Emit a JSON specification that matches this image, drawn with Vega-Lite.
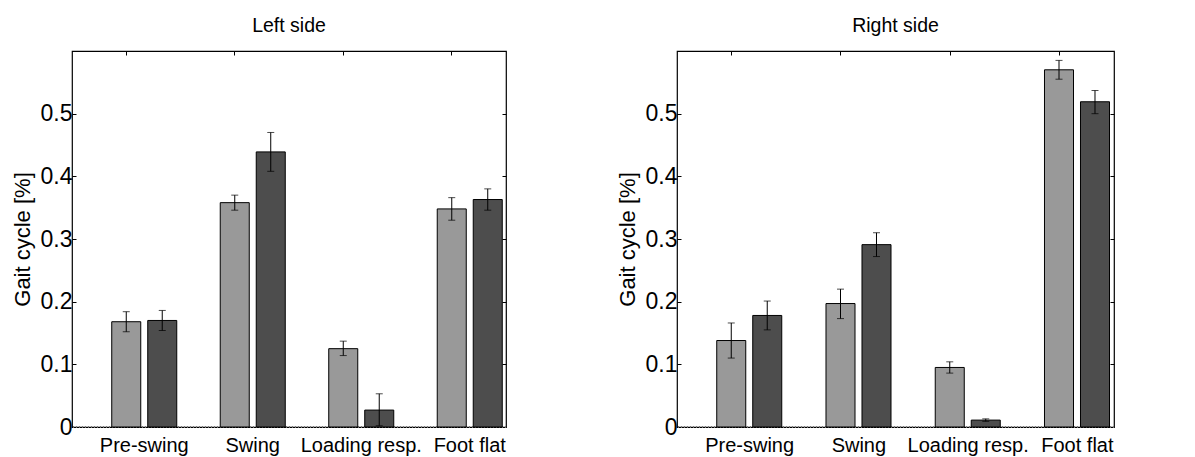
{
  "$schema": "https://vega.github.io/schema/vega-lite/v6.json",
  "background": "white",
  "padding": {"left": 10, "top": 15, "right": 5, "bottom": 0},
  "spacing": 107,
  "config": {
    "font": "Liberation Sans",
    "view": {"stroke": "black", "strokeWidth": 1.2},
    "axis": {"labelColor": "black", "titleColor": "black", "tickColor": "black", "domain": false, "grid": false, "titleFontWeight": "normal"},
    "title": {"fontWeight": "normal", "fontSize": 19.5, "color": "black", "offset": 14}
  },
  "datasets": {
    "left": [
      {"phase": "Pre-swing", "group": "A", "mean": 0.168, "lo": 0.152, "hi": 0.184},
      {"phase": "Pre-swing", "group": "B", "mean": 0.170, "lo": 0.154, "hi": 0.186},
      {"phase": "Swing", "group": "A", "mean": 0.358, "lo": 0.346, "hi": 0.370},
      {"phase": "Swing", "group": "B", "mean": 0.439, "lo": 0.408, "hi": 0.470},
      {"phase": "Loading resp.", "group": "A", "mean": 0.125, "lo": 0.114, "hi": 0.137},
      {"phase": "Loading resp.", "group": "B", "mean": 0.027, "lo": 0.002, "hi": 0.053},
      {"phase": "Foot flat", "group": "A", "mean": 0.348, "lo": 0.330, "hi": 0.366},
      {"phase": "Foot flat", "group": "B", "mean": 0.363, "lo": 0.346, "hi": 0.380}
    ],
    "right": [
      {"phase": "Pre-swing", "group": "A", "mean": 0.138, "lo": 0.110, "hi": 0.166},
      {"phase": "Pre-swing", "group": "B", "mean": 0.178, "lo": 0.155, "hi": 0.201},
      {"phase": "Swing", "group": "A", "mean": 0.197, "lo": 0.173, "hi": 0.220},
      {"phase": "Swing", "group": "B", "mean": 0.291, "lo": 0.272, "hi": 0.310},
      {"phase": "Loading resp.", "group": "A", "mean": 0.095, "lo": 0.086, "hi": 0.104},
      {"phase": "Loading resp.", "group": "B", "mean": 0.011, "lo": 0.009, "hi": 0.013},
      {"phase": "Foot flat", "group": "A", "mean": 0.570, "lo": 0.555, "hi": 0.585},
      {"phase": "Foot flat", "group": "B", "mean": 0.519, "lo": 0.500, "hi": 0.537}
    ]
  },
  "hconcat": [
    {
      "title": "Left side",
      "width": 434, "height": 376,
      "data": {"name": "left"},
      "resolve": {"axis": {"x": "independent", "y": "independent"}},
      "layer": [
        {"mark": {"type": "rule", "color": "#777777", "strokeDash": [1, 2], "strokeWidth": 1},
         "encoding": {"y": {"datum": 0, "type": "quantitative", "scale": {"domain": [0, 0.6], "nice": false}, "axis": null}}},
        {"mark": {"type": "bar", "stroke": "black", "strokeWidth": 1},
         "encoding": {
           "x": {"field": "phase", "type": "nominal", "sort": ["Pre-swing", "Swing", "Loading resp.", "Foot flat"], "scale": {"paddingInner": 0, "paddingOuter": 0},
                 "axis": {"title": null, "orient": "bottom", "ticks": false, "labelAngle": 0, "labelFontSize": 20, "labelOffset": 18, "labelPadding": 8}},
           "xOffset": {"field": "group", "scale": {"domain": ["none", "A", "B"], "paddingInner": 0.194, "paddingOuter": 0.104}},
           "y": {"field": "mean", "type": "quantitative", "scale": {"domain": [0, 0.6], "nice": false},
                 "axis": {"title": "Gait cycle [%]", "titleFontSize": 22, "titlePadding": 6, "values": [0, 0.1, 0.2, 0.3, 0.4, 0.5], "format": "~g", "labelFontSize": 23, "tickSize": -4, "labelPadding": 4}},
           "color": {"field": "group", "scale": {"domain": ["A", "B"], "range": ["#999999", "#4d4d4d"]}, "legend": null}
         }},
        {"mark": {"type": "rule", "color": "black", "strokeWidth": 1},
         "encoding": {
           "x": {"field": "phase", "type": "nominal", "sort": ["Pre-swing", "Swing", "Loading resp.", "Foot flat"],
                 "axis": {"title": null, "orient": "top", "labels": false, "tickSize": -4}},
           "xOffset": {"field": "group", "scale": {"domain": ["none", "A", "B"], "paddingInner": 0.194, "paddingOuter": 0.104}},
           "y": {"field": "lo", "type": "quantitative", "axis": {"title": null, "orient": "right", "labels": false, "values": [0.1, 0.2, 0.3, 0.4, 0.5], "tickSize": -4}},
           "y2": {"field": "hi"}
         }},
        {"mark": {"type": "tick", "color": "black", "thickness": 1, "size": 7, "orient": "horizontal"},
         "encoding": {
           "x": {"field": "phase", "type": "nominal", "sort": ["Pre-swing", "Swing", "Loading resp.", "Foot flat"], "axis": null},
           "xOffset": {"field": "group", "scale": {"domain": ["none", "A", "B"], "paddingInner": 0.194, "paddingOuter": 0.104}},
           "y": {"field": "lo", "type": "quantitative", "axis": null}
         }},
        {"mark": {"type": "tick", "color": "black", "thickness": 1, "size": 7, "orient": "horizontal"},
         "encoding": {
           "x": {"field": "phase", "type": "nominal", "sort": ["Pre-swing", "Swing", "Loading resp.", "Foot flat"], "axis": null},
           "xOffset": {"field": "group", "scale": {"domain": ["none", "A", "B"], "paddingInner": 0.194, "paddingOuter": 0.104}},
           "y": {"field": "hi", "type": "quantitative", "axis": null}
         }}
      ]
    },
    {
      "title": "Right side",
      "width": 437, "height": 376,
      "data": {"name": "right"},
      "resolve": {"axis": {"x": "independent", "y": "independent"}},
      "layer": [
        {"mark": {"type": "rule", "color": "#777777", "strokeDash": [1, 2], "strokeWidth": 1},
         "encoding": {"y": {"datum": 0, "type": "quantitative", "scale": {"domain": [0, 0.6], "nice": false}, "axis": null}}},
        {"mark": {"type": "bar", "stroke": "black", "strokeWidth": 1},
         "encoding": {
           "x": {"field": "phase", "type": "nominal", "sort": ["Pre-swing", "Swing", "Loading resp.", "Foot flat"], "scale": {"paddingInner": 0, "paddingOuter": 0},
                 "axis": {"title": null, "orient": "bottom", "ticks": false, "labelAngle": 0, "labelFontSize": 20, "labelOffset": 18, "labelPadding": 8}},
           "xOffset": {"field": "group", "scale": {"domain": ["none", "A", "B"], "paddingInner": 0.194, "paddingOuter": 0.104}},
           "y": {"field": "mean", "type": "quantitative", "scale": {"domain": [0, 0.6], "nice": false},
                 "axis": {"title": "Gait cycle [%]", "titleFontSize": 22, "titlePadding": 6, "values": [0, 0.1, 0.2, 0.3, 0.4, 0.5], "format": "~g", "labelFontSize": 23, "tickSize": -4, "labelPadding": 4}},
           "color": {"field": "group", "scale": {"domain": ["A", "B"], "range": ["#999999", "#4d4d4d"]}, "legend": null}
         }},
        {"mark": {"type": "rule", "color": "black", "strokeWidth": 1},
         "encoding": {
           "x": {"field": "phase", "type": "nominal", "sort": ["Pre-swing", "Swing", "Loading resp.", "Foot flat"],
                 "axis": {"title": null, "orient": "top", "labels": false, "tickSize": -4}},
           "xOffset": {"field": "group", "scale": {"domain": ["none", "A", "B"], "paddingInner": 0.194, "paddingOuter": 0.104}},
           "y": {"field": "lo", "type": "quantitative", "axis": {"title": null, "orient": "right", "labels": false, "values": [0.1, 0.2, 0.3, 0.4, 0.5], "tickSize": -4}},
           "y2": {"field": "hi"}
         }},
        {"mark": {"type": "tick", "color": "black", "thickness": 1, "size": 7, "orient": "horizontal"},
         "encoding": {
           "x": {"field": "phase", "type": "nominal", "sort": ["Pre-swing", "Swing", "Loading resp.", "Foot flat"], "axis": null},
           "xOffset": {"field": "group", "scale": {"domain": ["none", "A", "B"], "paddingInner": 0.194, "paddingOuter": 0.104}},
           "y": {"field": "lo", "type": "quantitative", "axis": null}
         }},
        {"mark": {"type": "tick", "color": "black", "thickness": 1, "size": 7, "orient": "horizontal"},
         "encoding": {
           "x": {"field": "phase", "type": "nominal", "sort": ["Pre-swing", "Swing", "Loading resp.", "Foot flat"], "axis": null},
           "xOffset": {"field": "group", "scale": {"domain": ["none", "A", "B"], "paddingInner": 0.194, "paddingOuter": 0.104}},
           "y": {"field": "hi", "type": "quantitative", "axis": null}
         }}
      ]
    }
  ]
}
